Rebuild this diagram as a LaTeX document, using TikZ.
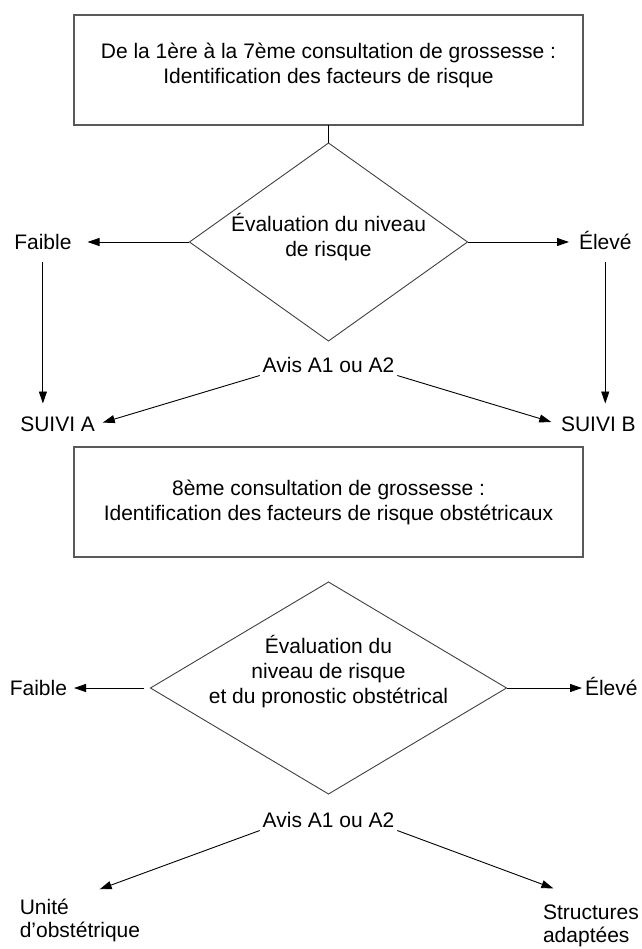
\documentclass[tikz,border=0pt]{standalone}
\usepackage{fontspec}
\setmainfont{Liberation Sans}
\usetikzlibrary{arrows.meta,positioning,shapes.geometric}

\begin{document}
\begin{tikzpicture}[
			node distance=20pt,
			every node/.style={font=\fontsize{21pt}{25pt}\selectfont,outer sep=0pt},
			box/.style={draw=black!65,line width=1.3pt,align=center,minimum width=509pt,minimum height=110pt},
			decision/.style={draw=black!75,line width=0.9pt,diamond,inner sep=0pt},
			lbl/.style={inner sep=3pt,text height=15pt,text depth=0pt},
			multi/.style={inner sep=3pt,align=left,font=\fontsize{21pt}{23pt}\selectfont},
			arrow/.style={-{Triangle[length=12pt,width=8pt]},line width=0.9pt}
			]
			\useasboundingbox (0,0) rectangle (641pt,-949pt);
			\node[box, text depth=14.4pt] (consult1) at (328.5pt,-70pt) {De la 1ère à la 7ème consultation de grossesse :\\Identification des facteurs de risque};
			\node[decision, minimum width=278pt, minimum height=198pt, below=18pt of consult1] (eval1) {};
			\node[align=center] (eval1txt) at ([yshift=4.5pt]eval1.center) {Évaluation du niveau\\de risque};
			\node[lbl, left=115pt of eval1] (low1) {Faible};
			\node[lbl, right=108.5pt of eval1] (high1) {Élevé};
			\node[lbl, below right=161pt and 6pt of low1.south west] (suivia) {SUIVI A};
			\node[lbl, right=460pt of suivia] (suivib) {SUIVI B};
			\node[lbl, below=13.5pt of eval1] (avis1) {Avis A1 ou A2};
			\node[box, below=106pt of eval1] (consult2) {8ème consultation de grossesse :\\Identification des facteurs de risque obstétricaux};
			\node[decision, minimum width=356pt, minimum height=212pt, below=25pt of consult2] (eval2) {};
			\node[align=center] (eval2txt) at ([yshift=16pt]eval2.center) {Évaluation du\\niveau de risque\\et du pronostic obstétrical};
			\node[lbl, left=80.5pt of eval2] (low2) {Faible};
			\node[lbl, right=75.5pt of eval2] (high2) {Élevé};
			\node[lbl, below=15.5pt of eval2] (avis2) {Avis A1 ou A2};
			\node[multi, below right=198pt and 10pt of low2.south west] (unite) {Unité\\d'obstétrique};
			\node[multi, right=397pt of unite, yshift=-5.4pt] (struct) {Structures\\adaptées};
			\draw[line width=0.9pt] (consult1)--(eval1);
			\draw[arrow,shorten >=13pt] (eval1)--(low1);
			\draw[arrow,shorten >=7pt] (eval1)--(high1);
			\draw[arrow,shorten <=10pt,shorten >=10pt] (low1.south)--(low1.south|-suivia.north);
			\draw[arrow,shorten <=10pt,shorten >=10pt] (high1.south)--(high1.south|-suivib.north);
			\draw[arrow,shorten >=5pt] (avis1.south west)--(suivia.east);
			\draw[arrow,shorten >=7pt] (avis1.south east)--(suivib.west);
			\draw[arrow,shorten <=6pt,shorten >=4pt] (eval2)--(low2);
			\draw[arrow] (eval2)--(high2);
			\draw[arrow,shorten >=21pt] (avis2.south west)--(unite.north);
			\draw[arrow,shorten >=40pt] (avis2.south east)--(struct.north);
		\end{tikzpicture}
\end{document}
